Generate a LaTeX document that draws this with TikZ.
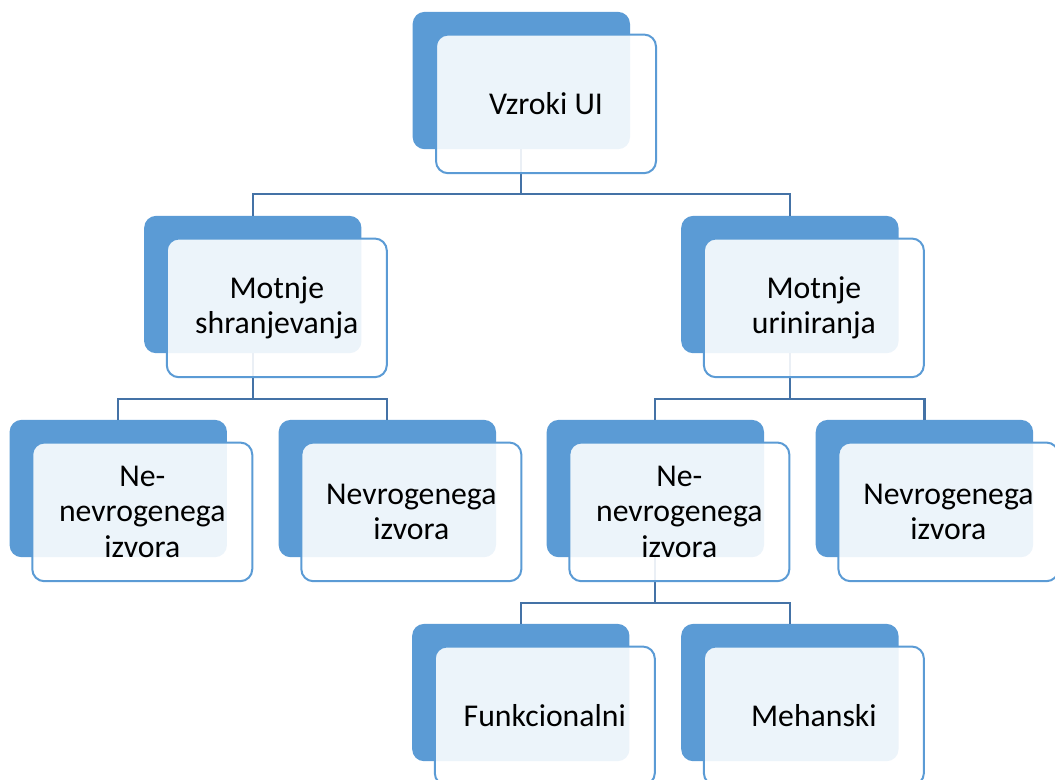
\documentclass[tikz,border=0pt]{standalone}
\usepackage{fontspec}
\setmainfont{Carlito}
\usetikzlibrary{positioning}
\definecolor{boxblue}{HTML}{5B9BD5}
\definecolor{linkblue}{HTML}{4472A6}

\begin{document}
\begin{tikzpicture}[node distance=153pt,on grid]
    \tikzstyle{back}=[shape=rectangle,rounded corners=9pt,fill=boxblue,minimum width=163pt,minimum height=103pt,inner sep=0pt]
    \tikzstyle{front}=[shape=rectangle,rounded corners=9pt,draw=boxblue,line width=1.5pt,fill=white,fill opacity=0.89,text opacity=1,minimum width=165pt,minimum height=104pt,inner sep=0pt,align=center,font=\fontsize{23.8pt}{26.3pt}\selectfont]
    \tikzstyle{link}=[draw=linkblue,line width=1.7pt]

    \useasboundingbox (0,0) rectangle (791.25pt,-585pt);
    \clip (0,0) rectangle (791.25pt,-585pt);

    % back boxes
    \node[back] (root) at (391pt,-60.4pt) {};
    \node[back, below left=153pt and 201.4pt of root] (shr) {};
    \node[back, below right=153pt and 201.4pt of root] (uri) {};
    \node[back, below left=153pt and 100.9pt of shr] (shrA) {};
    \node[back, below right=153pt and 100.9pt of shr] (shrB) {};
    \node[back, below left=153pt and 100.9pt of uri] (uriA) {};
    \node[back, below right=153pt and 100.9pt of uri] (uriB) {};
    \node[back, below left=153pt and 100.9pt of uriA] (fun) {};
    \node[back, below right=153pt and 100.9pt of uriA] (meh) {};

    \path[link]
    (root.south) -- ++(0,-33.5pt) -| (shr.north)
    (root.south) -- ++(0,-33.5pt) -| (uri.north)
    (shr.south) -- ++(0,-34pt) -| (shrA.north)
    (shr.south) -- ++(0,-34pt) -| (shrB.north)
    (uri.south) -- ++(0,-34pt) -| (uriA.north)
    (uri.south) -- ++(0,-34pt) -| (uriB.north)
    (uriA.south) -- ++(0,-34pt) -| (fun.north)
    (uriA.south) -- ++(0,-34pt) -| (meh.north)
    ;

    % front boxes with text
    \node[front, below right=17.5pt and 18.5pt of root] (rootF) {Vzroki UI};
    \node[front, below right=17.5pt and 18pt of shr] (shrF) {Motnje\\shranjevanja};
    \node[front, below right=17.5pt and 18pt of uri] (uriF) {Motnje\\uriniranja};
    \node[front, below right=17.5pt and 18pt of shrA] (shrAF) {Ne-\\nevrogenega\\izvora};
    \node[front, below right=17.5pt and 18pt of shrB] (shrBF) {Nevrogenega\\izvora};
    \node[front, below right=17.5pt and 18pt of uriA] (uriAF) {Ne-\\nevrogenega\\izvora};
    \node[front, below right=17.5pt and 18pt of uriB] (uriBF) {Nevrogenega\\izvora};
    \node[front, below right=17.5pt and 18pt of fun] (funF) {Funkcionalni};
    \node[front, below right=17.5pt and 18pt of meh] (mehF) {Mehanski};
\end{tikzpicture}
\end{document}
